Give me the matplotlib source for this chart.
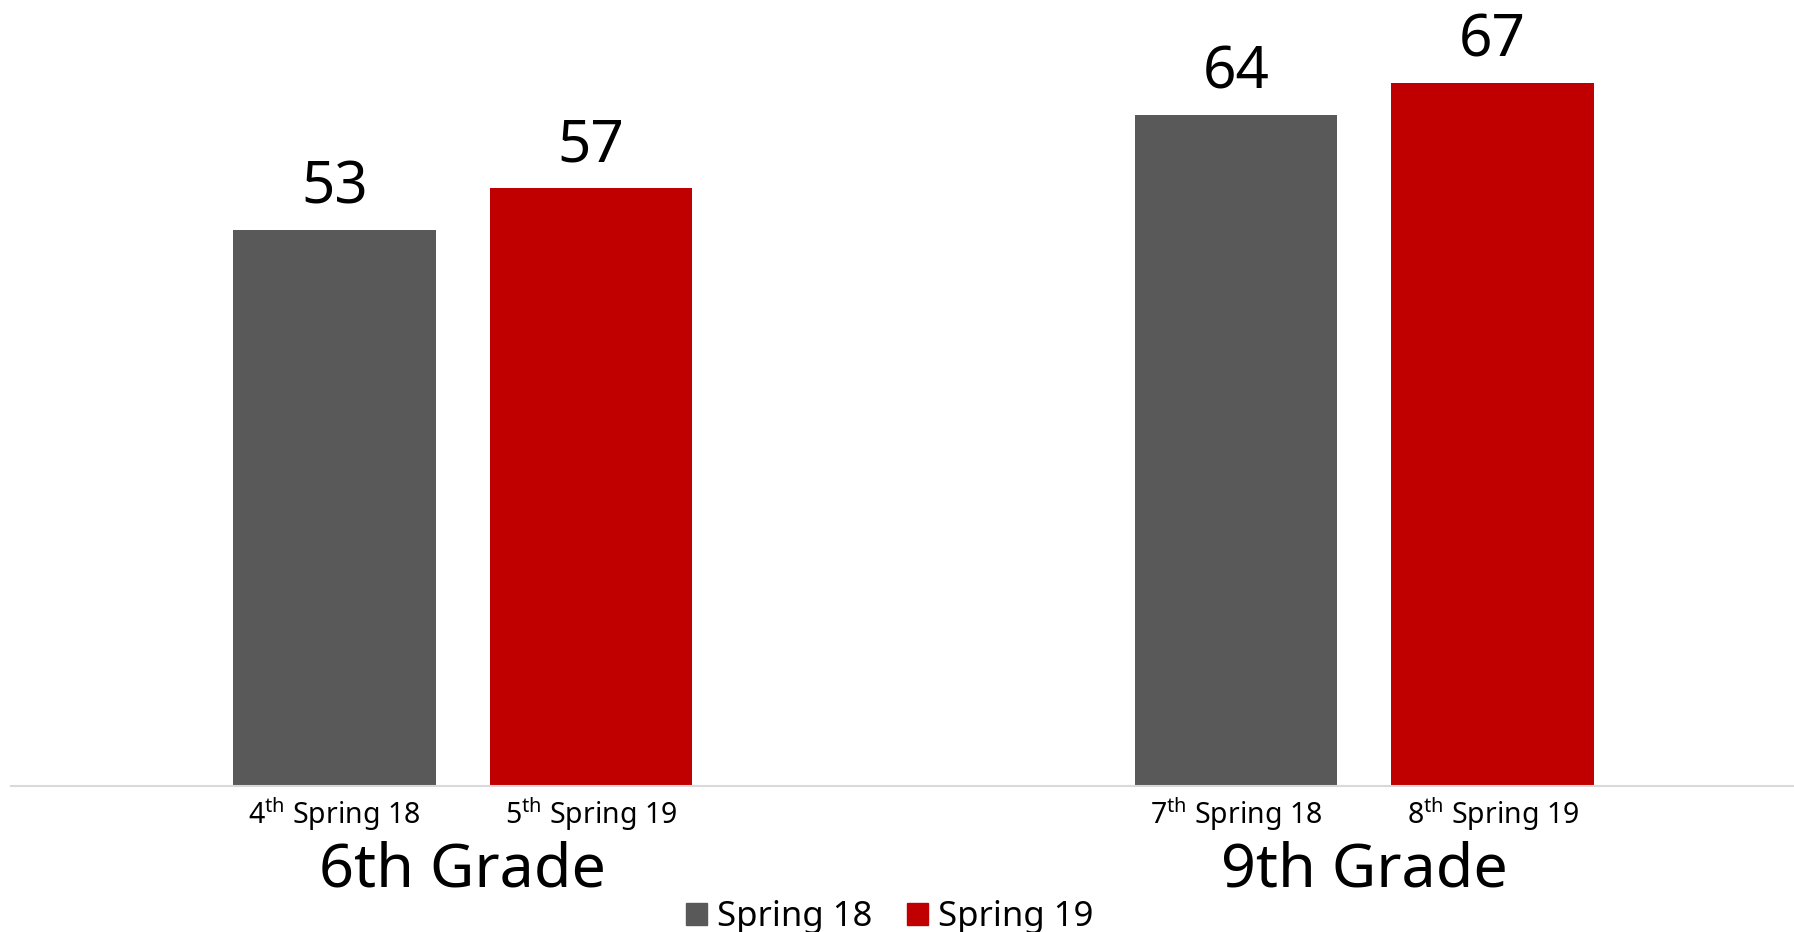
import numpy as np
import matplotlib
matplotlib.use("Agg")
import matplotlib.pyplot as plt
from matplotlib.patches import Patch

# datos
groups = ["6th Grade", "9th Grade"]
bar_grades = ["4", "5", "7", "8"]
bar_terms = ["Spring 18", "Spring 19", "Spring 18", "Spring 19"]
values = [53, 57, 64, 67]
series = ["Spring 18", "Spring 19"]
colors = {"Spring 18": "#595959", "Spring 19": "#c00000"}


def main():
    plt.rcParams['font.family'] = ['Noto Sans', 'DejaVu Sans']
    plt.rcParams['mathtext.default'] = 'regular'
    fig = plt.figure(figsize=(17.94, 9.32), dpi=100)
    W, H = 1794.0, 932.0
    ax = fig.add_axes([11 / W, 146 / H, 1783 / W, 786 / H])

    # posiciones: dos barras por grupo, hueco entre grupos
    x = np.array([0, 1, 3.515, 4.515])
    bar_colors = [colors[t] for t in bar_terms]
    ax.bar(x, values, width=0.79, color=bar_colors)
    for xi, v in zip(x, values):
        ax.annotate(str(v), (xi, v), xytext=(0, 9), textcoords='offset points',
                    ha='center', va='bottom', fontsize=42)

    ax.set_xlim(-1.261, 5.69)
    ax.set_ylim(0, 786 / 10.49)
    for s in ['top', 'left', 'right']:
        ax.spines[s].set_visible(False)
    ax.spines['bottom'].set_color('#d9d9d9')
    ax.spines['bottom'].set_linewidth(1.5)
    ax.set_yticks([])
    ax.set_xticks(x)
    ax.set_xticklabels([g + "$^{th}$ " + t for g, t in zip(bar_grades, bar_terms)], fontsize=20.5)
    ax.tick_params(axis='x', length=0, pad=7)

    # etiquetas de grupo
    for i, g in enumerate(groups):
        gx = (x[2 * i] + x[2 * i + 1]) / 2
        ax.annotate(g, (gx, 0), xytext=(0, -61), xycoords=('data', 'data'),
                    textcoords='offset points', ha='center', va='center', fontsize=44)

    handles = [Patch(color=colors[s], label=s) for s in series]
    fig.legend(handles=handles, loc='center', bbox_to_anchor=(0.496, 1 - 917 / H), ncol=2,
               frameon=False, fontsize=25, handlelength=0.6, handleheight=0.6,
               handletextpad=0.3, columnspacing=1.0)
    fig.savefig("out.png", dpi=100)


if __name__ == "__main__":
    main()
